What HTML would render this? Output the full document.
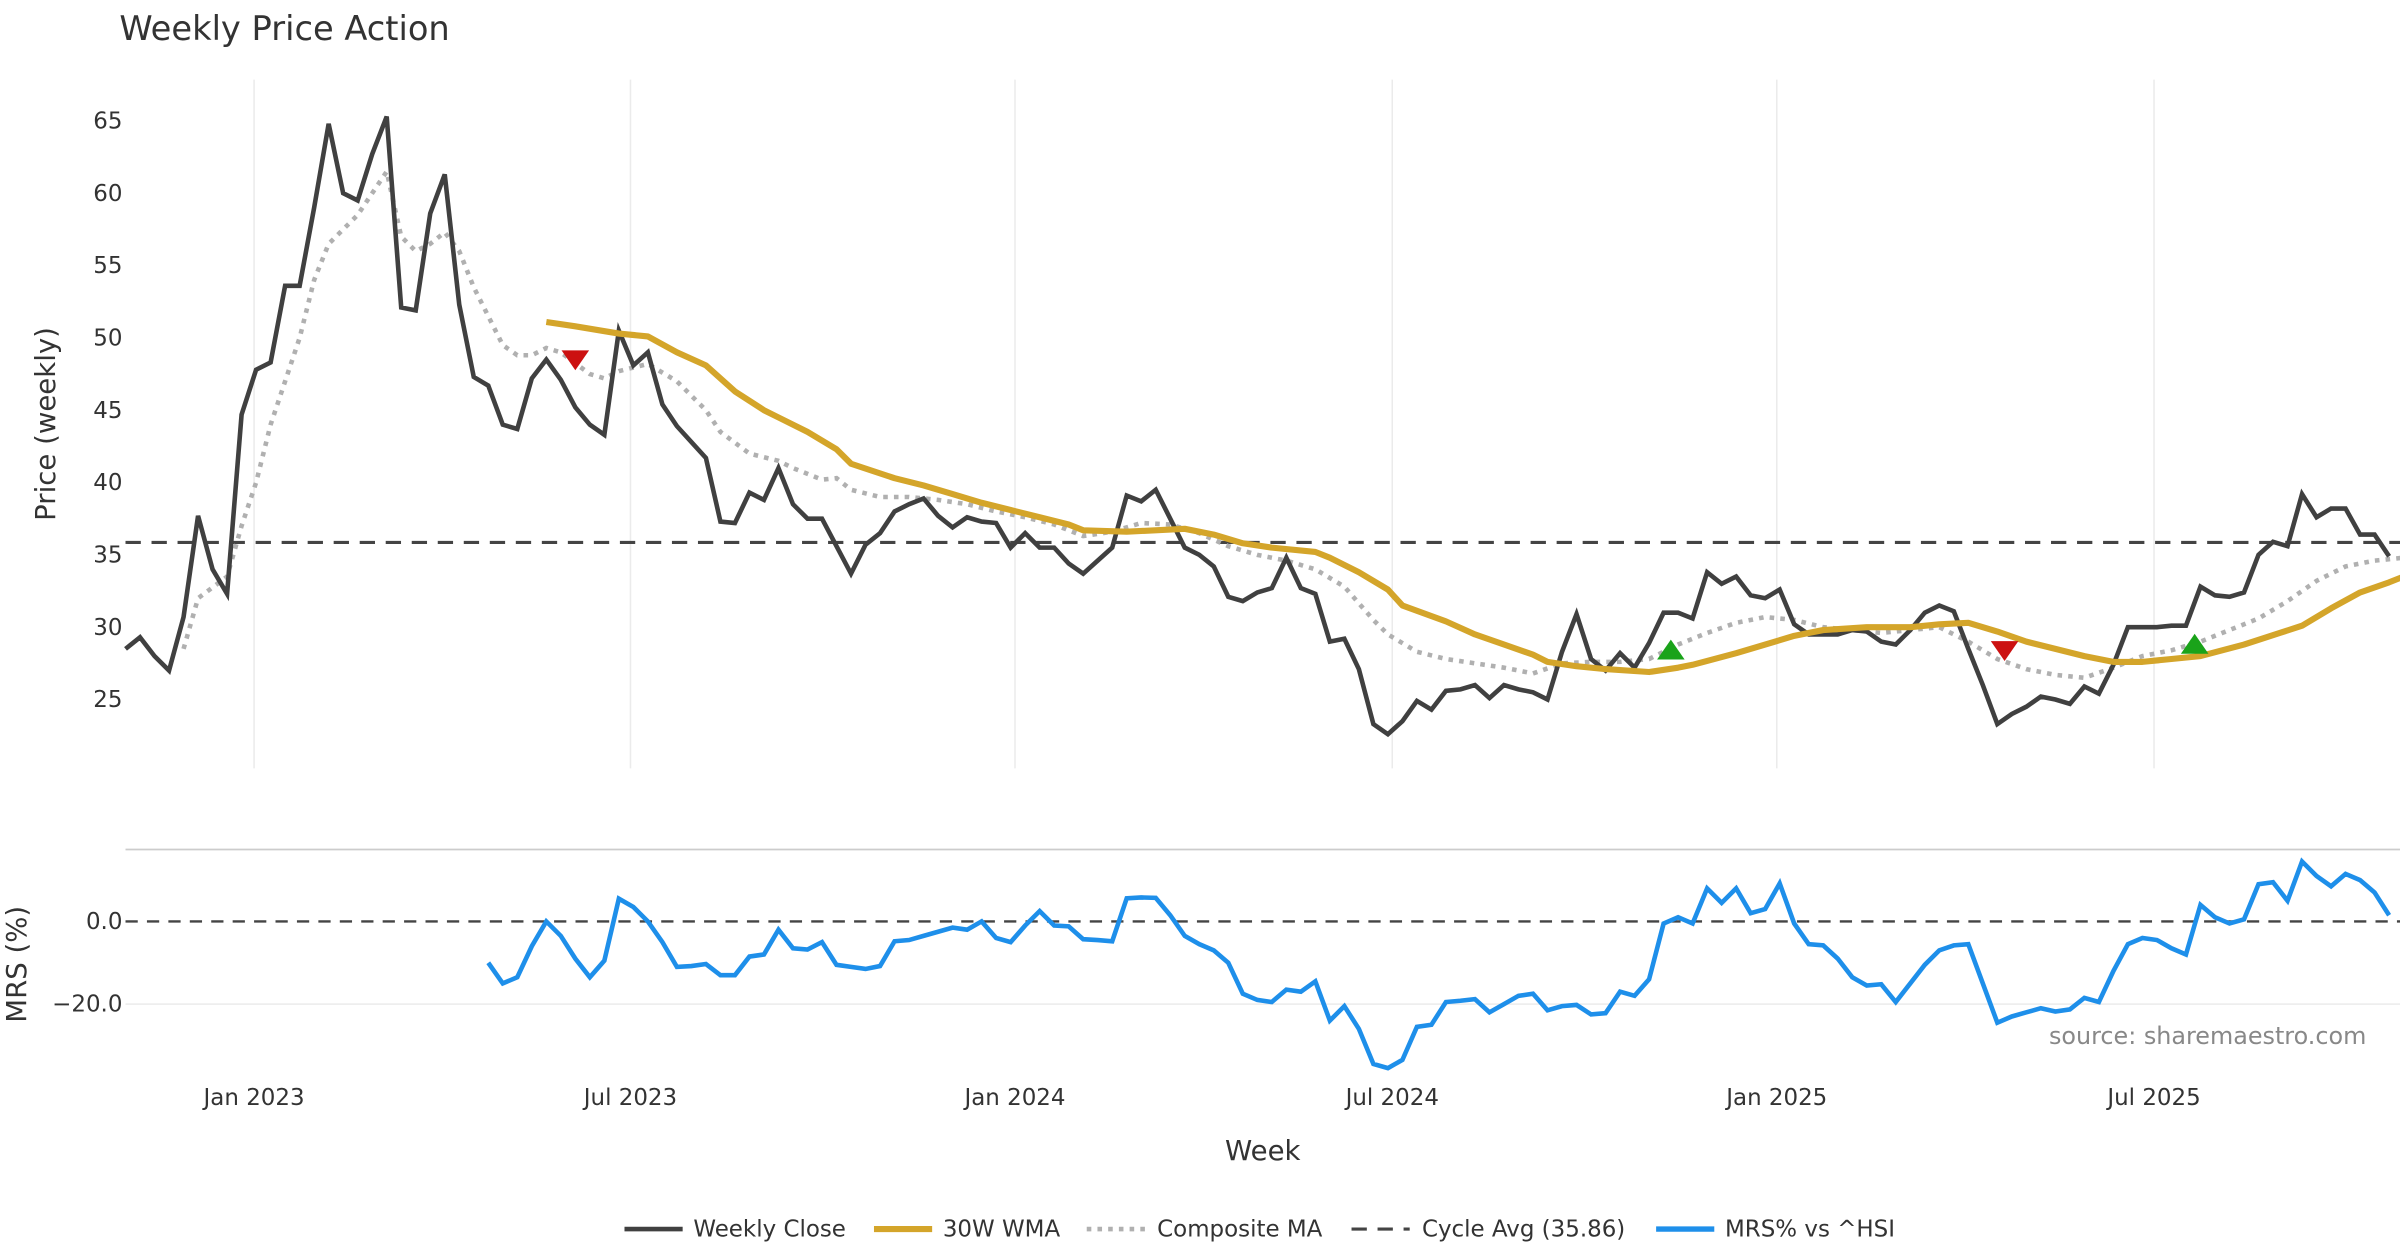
<!DOCTYPE html>
<html><head><meta charset="utf-8"><style>
html,body{margin:0;padding:0;background:#fff;}
svg{display:block;font-family:"DejaVu Sans","Liberation Sans",sans-serif;}
</style></head><body>
<svg id="chart" width="2400" height="1260" viewBox="0 0 1568 823.2" xmlns="http://www.w3.org/2000/svg">
<text x="78" y="26" font-size="22" fill="#333">Weekly Price Action</text>
<g id="grid"></g>
<g id="price"></g>
<g id="mrs"></g>
<text transform="translate(36,277) rotate(-90)" text-anchor="middle" font-size="18" fill="#333">Price (weekly)</text>
<text transform="translate(17,630) rotate(-90)" text-anchor="middle" font-size="18" fill="#333">MRS (%)</text>
<text x="825" y="758" text-anchor="middle" font-size="18" fill="#333">Week</text>
<text x="1546" y="682" text-anchor="end" font-size="15.6" fill="#888">source: sharemaestro.com</text>
<g font-size="15" fill="#333">
<line x1="408" y1="803" x2="446" y2="803" stroke="#404040" stroke-width="3"/><text x="453" y="808">Weekly Close</text>
<line x1="571" y1="803" x2="609" y2="803" stroke="#D4A52A" stroke-width="4"/><text x="616" y="808">30W WMA</text>
<line x1="710" y1="803" x2="748" y2="803" stroke="#b0b0b0" stroke-width="3" stroke-dasharray="3,4"/><text x="756" y="808">Composite MA</text>
<line x1="883" y1="803" x2="921" y2="803" stroke="#444" stroke-width="2" stroke-dasharray="10,7"/><text x="929" y="808">Cycle Avg (35.86)</text>
<line x1="1082" y1="803" x2="1120" y2="803" stroke="#1E8FEA" stroke-width="3.5"/><text x="1127" y="808">MRS% vs ^HSI</text>
</g>
</svg>
<script>
const closeValues=[28.5,29.3,28,27,30.7,37.7,34,32.3,44.7,47.8,48.3,53.6,53.6,59,64.8,60,59.5,62.7,65.3,52.1,51.9,58.6,61.3,52.3,47.3,46.7,44,43.7,47.2,48.5,47.1,45.2,44,43.3,50.5,48.1,49,45.4,43.9,42.8,41.7,37.3,37.2,39.3,38.8,41,38.5,37.5,37.5,35.6,33.7,35.7,36.5,38,38.5,38.9,37.7,36.9,37.6,37.3,37.2,35.5,36.5,35.5,35.5,34.4,33.7,34.6,35.5,39.1,38.7,39.5,37.5,35.5,35,34.2,32.1,31.8,32.4,32.7,34.8,32.7,32.3,29,29.2,27.1,23.3,22.6,23.5,24.9,24.3,25.6,25.7,26,25.1,26,25.7,25.5,25,28.3,30.9,27.8,27,28.2,27.2,28.9,31,31,30.6,33.8,33,33.5,32.2,32,32.6,30.2,29.5,29.5,29.5,29.8,29.7,29,28.8,29.8,31,31.5,31.1,28.5,26,23.3,24,24.5,25.2,25,24.7,25.9,25.4,27.4,30,30,30,30.1,30.1,32.8,32.2,32.1,32.4,35,35.9,35.6,39.2,37.6,38.2,38.2,36.4,36.4,34.9];
const wmaWeeks=[29,31,34,36,38,40,42,44,45,47,49,50,53,55,57,59,61,63,65,66,69,73,75,77,79,82,83,85,87,88,91,93,95,97,98,100,102,105,107,108,111,113,115,117,120,123,125,127,129,131,133,135,137,139,141,143,146,150,152,154,156,157];
const wmaValues=[51.1,50.8,50.3,50.1,49,48.1,46.3,45,44.5,43.5,42.3,41.3,40.3,39.8,39.2,38.6,38.1,37.6,37.1,36.7,36.6,36.8,36.4,35.8,35.5,35.2,34.8,33.8,32.6,31.5,30.4,29.5,28.8,28.1,27.6,27.3,27.1,26.9,27.2,27.4,28.2,28.8,29.4,29.8,30,30,30.2,30.3,29.7,29,28.5,28,27.6,27.6,27.8,28,28.8,30.1,31.3,32.4,33.1,33.5];
const compWeeks=[4,5,7,8,9,10,11,12,13,14,16,18,19,20,21,22,23,24,25,26,27,28,29,30,32,33,34,36,38,40,41,43,45,46,48,49,50,52,54,56,58,60,62,64,66,68,70,72,74,76,78,80,82,84,86,87,89,91,93,95,97,99,101,103,105,107,109,111,113,115,117,119,121,123,125,127,129,131,133,135,137,139,141,143,145,147,149,151,153,155,157];
const compValues=[28.5,32,33.5,37,40,44,47,50,54,56.5,58.5,61.5,57,56,56.5,57.3,56,53.5,51.5,49.5,48.8,48.8,49.3,49,47.5,47.2,47.7,48.2,47,45,43.5,42,41.5,41,40.2,40.3,39.5,39,39,38.8,38.5,38,37.6,37.1,36.3,36.6,37.2,37.1,36.5,35.6,35,34.6,34,32.8,30.5,29.5,28.3,27.8,27.5,27.2,26.8,27.5,27.6,27.6,27.8,28.8,29.6,30.3,30.7,30.5,30,29.8,29.6,29.8,30,29,27.8,27.1,26.7,26.5,27.2,28,28.4,29,29.8,30.6,31.8,33.2,34.2,34.6,34.8];
const mrsStart=25;
const mrsValues=[-10,-15,-13.5,-6,0,-3.5,-9,-13.5,-9.5,5.5,3.5,0,-5,-11,-10.8,-10.3,-13,-13,-8.5,-8,-2,-6.5,-6.8,-5,-10.5,-11,-11.5,-10.8,-4.8,-4.5,-3.5,-2.5,-1.5,-2,0,-4,-5,-1,2.5,-1,-1.2,-4.3,-4.5,-4.8,5.6,5.8,5.7,1.5,-3.5,-5.5,-7,-10,-17.5,-19,-19.5,-16.5,-17,-14.5,-24,-20.5,-26,-34.5,-35.5,-33.5,-25.5,-25,-19.5,-19.2,-18.8,-22,-20,-18,-17.5,-21.5,-20.5,-20.2,-22.5,-22.2,-17,-18,-14,-0.5,1,-0.5,8,4.5,8,2,3,9.2,-0.5,-5.5,-5.8,-9,-13.5,-15.5,-15.2,-19.5,-15,-10.5,-7,-5.8,-5.5,-15,-24.5,-23,-22,-21,-21.8,-21.3,-18.5,-19.5,-12,-5.5,-4,-4.5,-6.5,-8,4,1,-0.5,0.5,9,9.5,5,14.5,11,8.5,11.5,10,7,1.5];
const sellWeeks=[31,129.5];
const sellValues=[48.5,28.4];
const buyWeeks=[106.5,142.6];
const buyValues=[28.4,28.8];
const cycleAvg=35.86;
const priceTicks=[25,30,35,40,45,50,55,60,65];
const mrsTicks=[0,-20];
const mrsTickLabels=["0.0","\u221220.0"];
const xTickWeeks=[8.86,34.8,61.3,87.3,113.8,139.8];
const xTickLabels=["Jan 2023","Jul 2023","Jan 2024","Jul 2024","Jan 2025","Jul 2025"];

const NS="http://www.w3.org/2000/svg";
const X0=82,X1=1568;
function xs(i){return X0+i*9.48;}
function yp(v){return 79+(65-v)*9.45;}
function ym(v){return 602-v*2.7;}
function mk(tag,attrs,parent){const e=document.createElementNS(NS,tag);for(const k in attrs)e.setAttribute(k,attrs[k]);parent.appendChild(e);return e;}
const grid=document.getElementById('grid'),price=document.getElementById('price'),mrs=document.getElementById('mrs'),svg=document.getElementById('chart');

xTickWeeks.forEach((w,i)=>{
  const l=mk('line',{x1:xs(w),x2:xs(w),y1:52,y2:502,stroke:'#ebebeb','stroke-width':1},grid);
  
  
  const t=mk('text',{x:xs(w),y:722,'text-anchor':'middle','font-size':15,fill:'#333'},svg);
  t.textContent=xTickLabels[i];
  
  
});
priceTicks.forEach(v=>{
  const t=mk('text',{x:80,y:yp(v)+5,'text-anchor':'end','font-size':15,fill:'#333'},svg);
  t.textContent=v;
  
  
});
mrsTicks.forEach((v,i)=>{
  const t=mk('text',{x:80,y:ym(v)+5,'text-anchor':'end','font-size':15,fill:'#333'},svg);
  t.textContent=mrsTickLabels[i];
  
  
  if(v!==0){const g=mk('line',{x1:X0,x2:X1,y1:ym(v),y2:ym(v),stroke:'#ebebeb','stroke-width':1},grid);
  
  }
});
const sep=mk('line',{x1:X0,x2:X1,y1:555,y2:555,stroke:'#cccccc','stroke-width':1.2},grid);



function pts(ws,vs,f){return vs.map((v,i)=>xs(ws(i))+','+f(v)).join(' ');}
const cyc=mk('line',{x1:X0,x2:X1,y1:yp(cycleAvg),y2:yp(cycleAvg),stroke:'#444','stroke-width':2,'stroke-dasharray':'10,7'},price);


const comp=mk('polyline',{points:pts(i=>compWeeks[i],compValues,yp),fill:'none',stroke:'#b0b0b0','stroke-width':3,'stroke-dasharray':'3,4'},price);


const cl=mk('polyline',{points:pts(i=>i,closeValues,yp),fill:'none',stroke:'#404040','stroke-width':3,'stroke-linejoin':'miter'},price);


const wm=mk('polyline',{points:pts(i=>wmaWeeks[i],wmaValues,yp),fill:'none',stroke:'#D4A52A','stroke-width':4,'stroke-linejoin':'round'},price);


sellWeeks.forEach((w,i)=>{const x=xs(w),y=yp(sellValues[i]);
  const p=mk('polygon',{points:(x-9)+','+(y-6)+' '+(x+9)+','+(y-6)+' '+x+','+(y+7),fill:'#cc1111'},price);
  
  });
buyWeeks.forEach((w,i)=>{const x=xs(w),y=yp(buyValues[i]);
  const p=mk('polygon',{points:(x-9)+','+(y+6)+' '+(x+9)+','+(y+6)+' '+x+','+(y-7),fill:'#1aa31a'},price);
  
  });

const z=mk('line',{x1:X0,x2:X1,y1:ym(0),y2:ym(0),stroke:'#444','stroke-width':1.5,'stroke-dasharray':'8,6'},mrs);


const ml=mk('polyline',{points:pts(i=>mrsStart+i,mrsValues,ym),fill:'none',stroke:'#1E8FEA','stroke-width':3},mrs);


</script>
</body></html>
